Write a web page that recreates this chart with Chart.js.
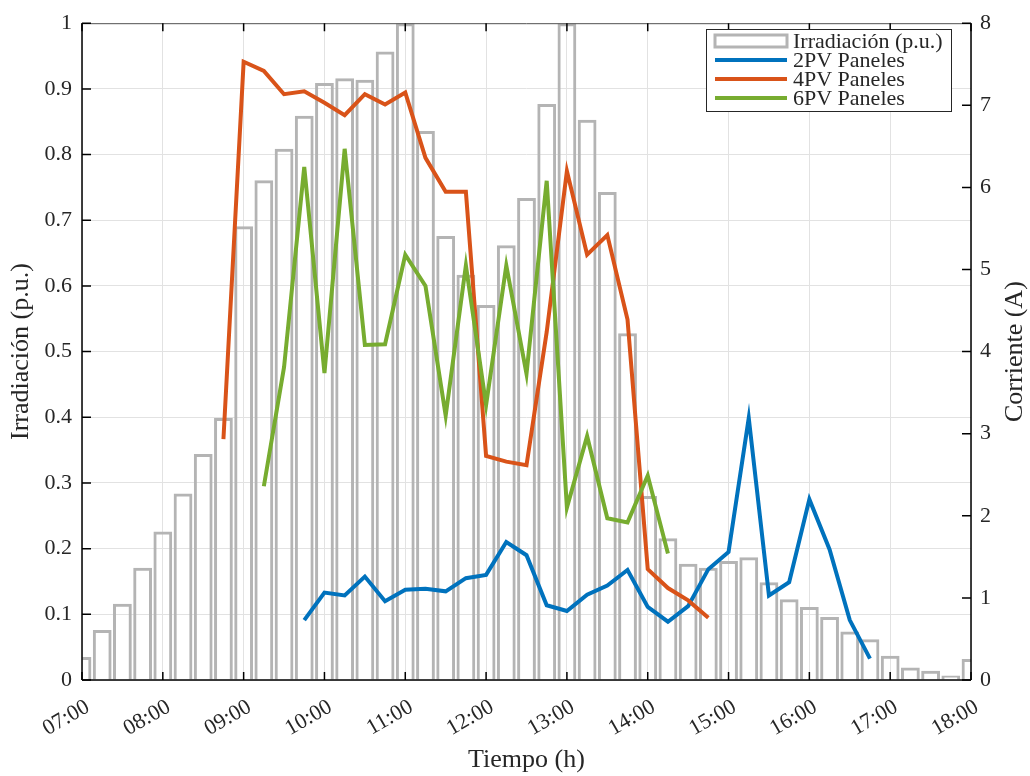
<!DOCTYPE html>
<html>
<head>
<meta charset="utf-8">
<script src="https://cdn.jsdelivr.net/npm/chart.js@4/dist/chart.umd.min.js"></script>
<style>
  html, body { margin: 0; padding: 0; background: #fff; }
  #wrap { width: 1030px; height: 776px; position: relative; }
</style>
</head>
<body>
<div id="wrap"><canvas id="irr-chart"></canvas></div>
<script>
// quarter-hour samples, 07:00 .. 18:00
const times = [
  '07:00','07:15','07:30','07:45','08:00','08:15','08:30','08:45',
  '09:00','09:15','09:30','09:45','10:00','10:15','10:30','10:45',
  '11:00','11:15','11:30','11:45','12:00','12:15','12:30','12:45',
  '13:00','13:15','13:30','13:45','14:00','14:15','14:30','14:45',
  '15:00','15:15','15:30','15:45','16:00','16:15','16:30','16:45',
  '17:00','17:15','17:30','17:45','18:00'
];

// irradiance in p.u. (left axis)
const irradiance = [
  0.035, 0.076, 0.116, 0.171, 0.226, 0.284, 0.344, 0.399,
  0.691, 0.761, 0.809, 0.859, 0.909, 0.916, 0.914, 0.957,
  1.000, 0.836, 0.676, 0.617, 0.571, 0.662, 0.734, 0.877,
  1.000, 0.853, 0.743, 0.528, 0.280, 0.216, 0.177, 0.171,
  0.181, 0.187, 0.149, 0.123, 0.111, 0.096, 0.074, 0.062,
  0.037, 0.019, 0.014, 0.007, 0.032
];

// currents in A (right axis), each series starts at its own time
const pv2Start = '09:45';
const pv2 = [
  0.73, 1.065, 1.03, 1.26, 0.96, 1.10, 1.11, 1.08, 1.24, 1.28,
  1.68, 1.52, 0.91, 0.84, 1.04, 1.15, 1.34, 0.89, 0.71, 0.90,
  1.35, 1.56, 3.19, 1.03, 1.19, 2.20, 1.59, 0.73, 0.26
];
const pv4Start = '08:45';
const pv4 = [
  2.935, 7.53, 7.42, 7.135, 7.17, 7.03, 6.88, 7.135, 7.01, 7.157,
  6.36, 5.946, 5.946, 2.73, 2.66, 2.616, 4.24, 6.2, 5.18, 5.42,
  4.39, 1.35, 1.12, 0.97, 0.757
];
const pv6Start = '09:15';
const pv6 = [
  2.36, 3.81, 6.25, 3.74, 6.47, 4.08, 4.09, 5.18, 4.80, 3.22,
  5.05, 3.35, 5.05, 3.73, 6.08, 2.10, 2.97, 1.97, 1.92, 2.49, 1.54
];

const hourTicks = ['07:00','08:00','09:00','10:00','11:00','12:00','13:00','14:00','15:00','16:00','17:00','18:00'];

const FONT = "'Liberation Serif', 'Times New Roman', serif";
const TXT = '#262626';

const toHours = s => { const p = s.split(':').map(Number); return p[0] + p[1] / 60; };
const fmtHour = h => String(Math.round(h)).padStart(2, '0') + ':00';
const series = (start, vals) => {
  const i0 = times.indexOf(start);
  return vals.map((v, i) => ({ x: toHours(times[i0 + i]), y: v }));
};

// frame, inward tick marks, right axis title and boxed legend
const framePlugin = {
  id: 'frame',
  afterDraw(chart) {
    const { ctx, chartArea: a, scales } = chart;
    ctx.save();
    // top border (light)
    ctx.strokeStyle = '#555';
    ctx.lineWidth = 1;
    ctx.beginPath(); ctx.moveTo(a.left, a.top + 0.5); ctx.lineTo(a.right, a.top + 0.5); ctx.stroke();
    // left, right, bottom axis lines
    ctx.strokeStyle = '#000';
    ctx.lineWidth = 1.5;
    ctx.beginPath();
    ctx.moveTo(a.left, a.top); ctx.lineTo(a.left, a.bottom);
    ctx.moveTo(a.right, a.top); ctx.lineTo(a.right, a.bottom);
    ctx.moveTo(a.left, a.bottom); ctx.lineTo(a.right, a.bottom);
    ctx.stroke();
    // inward ticks
    ctx.beginPath();
    hourTicks.forEach(t => {
      const x = scales.x.getPixelForValue(toHours(t));
      ctx.moveTo(x, a.bottom); ctx.lineTo(x, a.bottom - 8);
      ctx.moveTo(x, a.top); ctx.lineTo(x, a.top + 8);
    });
    scales.y.ticks.forEach(t => {
      const y = scales.y.getPixelForValue(t.value);
      ctx.moveTo(a.left, y); ctx.lineTo(a.left + 9, y);
    });
    scales.y1.ticks.forEach(t => {
      const y = scales.y1.getPixelForValue(t.value);
      ctx.moveTo(a.right, y); ctx.lineTo(a.right - 9, y);
    });
    ctx.stroke();

    // right axis title, reading bottom to top
    ctx.fillStyle = TXT;
    ctx.font = '26px ' + FONT;
    ctx.textAlign = 'center';
    ctx.textBaseline = 'middle';
    ctx.translate(1015, (a.top + a.bottom) / 2);
    ctx.rotate(-Math.PI / 2);
    ctx.fillText('Corriente (A)', 0, 0);
    ctx.setTransform(1, 0, 0, 1, 0, 0);

    // legend
    const lx = 706, ly = 29, lw = 245, lh = 82;
    ctx.fillStyle = '#fff';
    ctx.fillRect(lx, ly, lw, lh);
    ctx.strokeStyle = '#262626';
    ctx.lineWidth = 1;
    ctx.strokeRect(lx + 0.5, ly + 0.5, lw, lh);
    ctx.font = '22px ' + FONT;
    ctx.textAlign = 'left';
    ctx.textBaseline = 'middle';
    chart.data.datasets.forEach((ds, i) => {
      const cy = ly + 12 + i * 19;
      if (ds.type === 'line') {
        ctx.strokeStyle = ds.borderColor;
        ctx.lineWidth = 4;
        ctx.beginPath(); ctx.moveTo(715, cy); ctx.lineTo(787, cy); ctx.stroke();
      } else {
        ctx.strokeStyle = ds.borderColor;
        ctx.lineWidth = 3;
        ctx.strokeRect(715, cy - 6, 72, 12);
      }
      ctx.fillStyle = TXT;
      ctx.fillText(ds.label, 793, cy + 1);
    });
    ctx.restore();
  }
};

new Chart('irr-chart', {
  type: 'bar',
  data: {
    datasets: [
      {
        label: 'Irradiación (p.u.)',
        data: times.map((t, i) => ({ x: toHours(t), y: irradiance[i] })),
        backgroundColor: 'rgba(0,0,0,0)',
        borderColor: '#b4b4b4',
        borderWidth: 3,
        borderSkipped: 'start',
        barPercentage: 0.93,
        categoryPercentage: 1,
        yAxisID: 'y',
        clip: 0,
        order: 4
      },
      {
        type: 'line',
        label: '2PV Paneles',
        data: series(pv2Start, pv2),
        borderColor: '#0072BD',
        borderWidth: 4,
        pointRadius: 0,
        yAxisID: 'y1',
        order: 3
      },
      {
        type: 'line',
        label: '4PV Paneles',
        data: series(pv4Start, pv4),
        borderColor: '#D95319',
        borderWidth: 4,
        pointRadius: 0,
        yAxisID: 'y1',
        order: 2
      },
      {
        type: 'line',
        label: '6PV Paneles',
        data: series(pv6Start, pv6),
        borderColor: '#77AC30',
        borderWidth: 4,
        pointRadius: 0,
        yAxisID: 'y1',
        order: 1
      }
    ]
  },
  options: {
    responsive: true,
    maintainAspectRatio: false,
    animation: false,
    layout: { padding: { top: 20, left: 0, right: 0, bottom: 0 } },
    plugins: { legend: { display: false }, tooltip: { enabled: false } },
    scales: {
      x: {
        type: 'linear',
        min: 7,
        max: 18,
        offset: false,
        afterFit: s => { s.height = 96; },
        afterBuildTicks: s => { s.ticks = hourTicks.map(t => ({ value: toHours(t) })); },
        grid: { color: '#e2e2e2', lineWidth: 1, drawTicks: false, offset: false },
        border: { display: false },
        ticks: {
          padding: 14,
          labelOffset: 6,
          minRotation: 30,
          maxRotation: 30,
          color: TXT,
          font: { family: FONT, size: 22 },
          callback: v => fmtHour(v)
        },
        title: {
          display: true,
          text: 'Tiempo (h)',
          color: TXT,
          font: { family: FONT, size: 26 },
          padding: { top: 0, bottom: 0 }
        }
      },
      y: {
        position: 'left',
        min: 0,
        max: 1,
        afterFit: s => { s.width = 82; },
        grid: { color: '#e2e2e2', lineWidth: 1, drawTicks: false },
        border: { display: false },
        ticks: {
          stepSize: 0.1,
          padding: 10,
          color: TXT,
          font: { family: FONT, size: 22 },
          callback: v => String(Math.round(v * 10) / 10)
        },
        title: {
          display: true,
          text: 'Irradiación (p.u.)',
          color: TXT,
          font: { family: FONT, size: 26 },
          padding: { top: 6, bottom: 0 }
        }
      },
      y1: {
        position: 'right',
        min: 0,
        max: 8,
        afterFit: s => { s.width = 59; },
        grid: { display: false, drawTicks: false },
        border: { display: false },
        ticks: {
          stepSize: 1,
          padding: 9,
          color: TXT,
          font: { family: FONT, size: 22 }
        }
      }
    }
  },
  plugins: [framePlugin]
});
</script>
</body>
</html>
